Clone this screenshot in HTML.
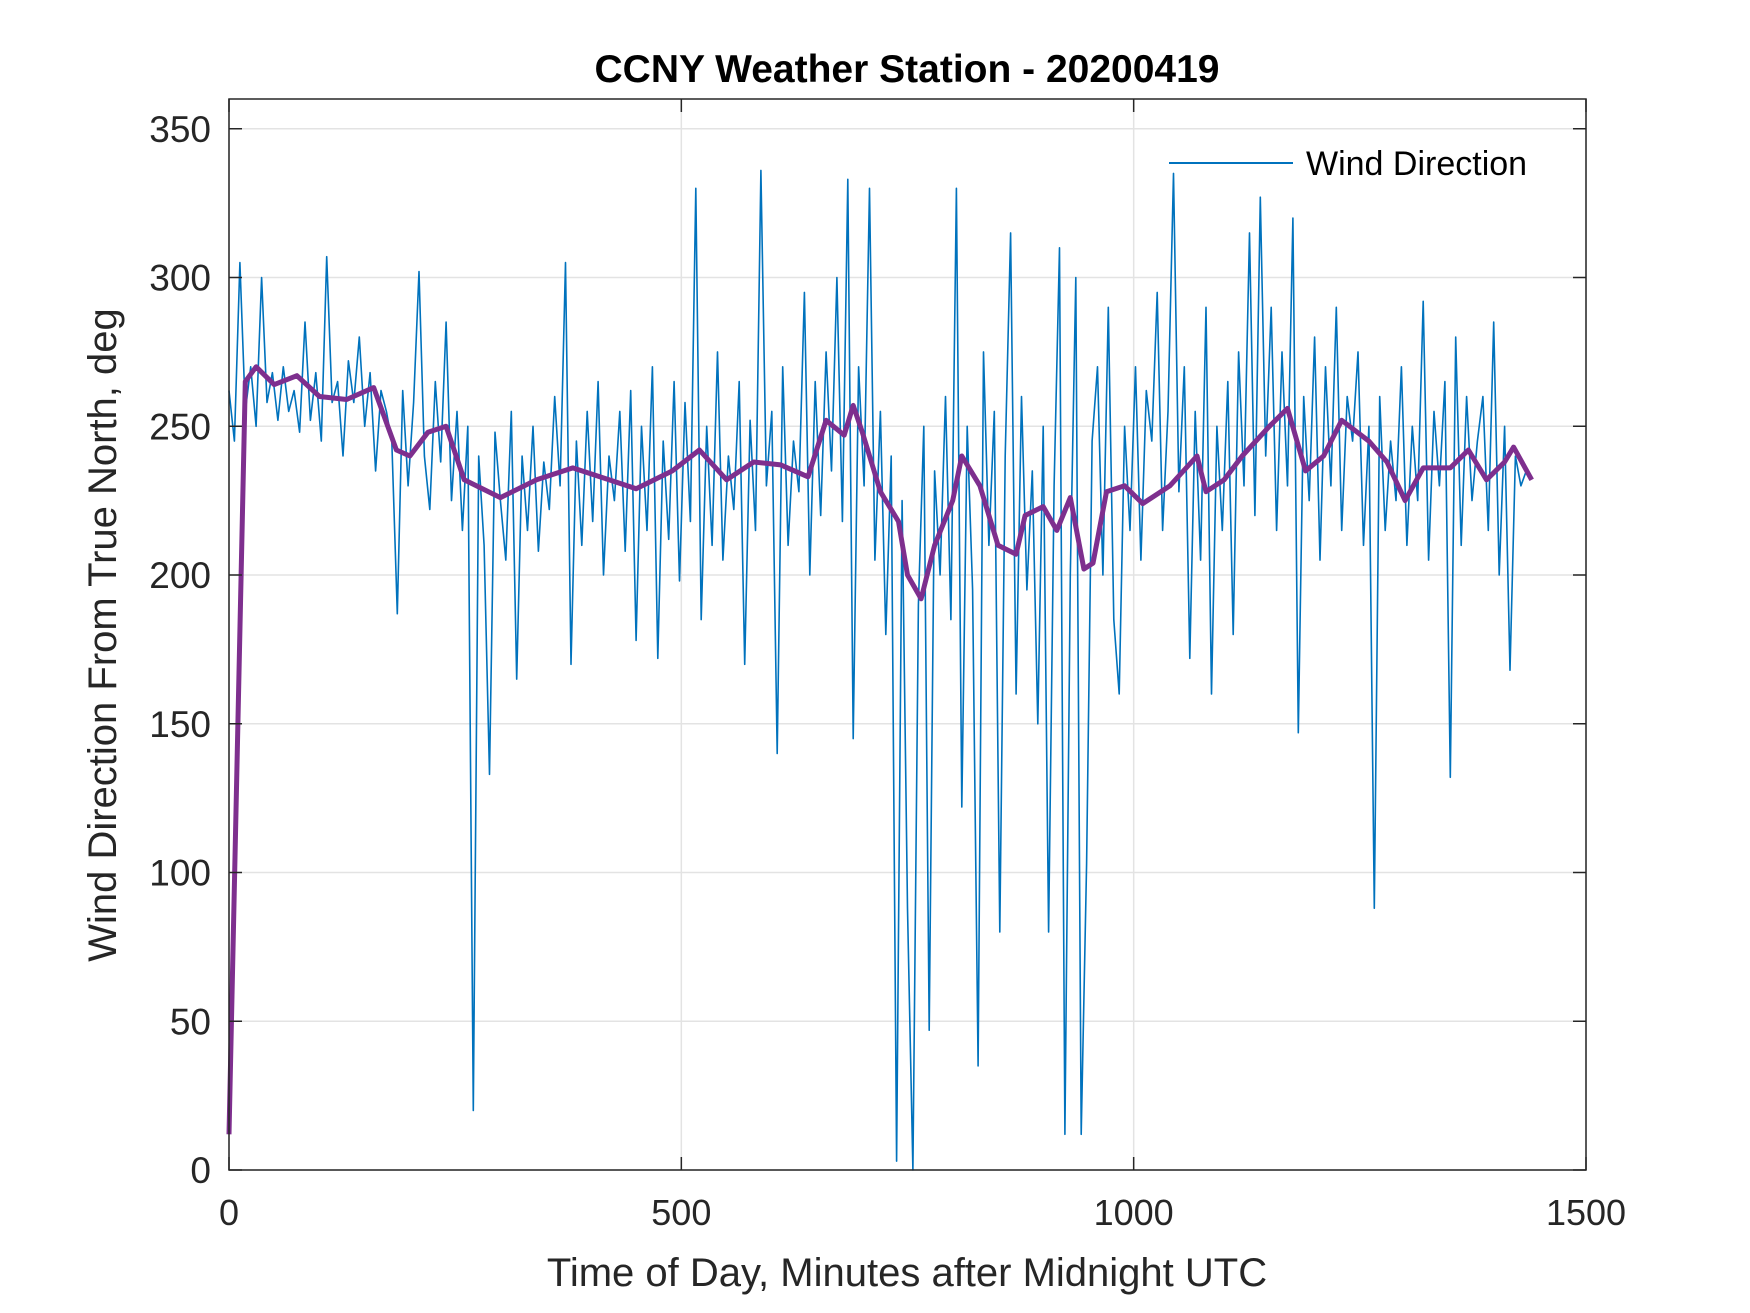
<!DOCTYPE html>
<html><head><meta charset="utf-8"><style>
body{margin:0;background:#fff}
svg{display:block;font-family:"Liberation Sans",Arial,sans-serif}
</style></head><body>
<svg id="chart" width="1750" height="1313" viewBox="0 0 1750 1313">
<rect width="1750" height="1313" fill="#fff"/>
<g id="grid"></g>
<g id="series"></g>
<rect x="229" y="99" width="1357" height="1071" fill="none" stroke="#262626" stroke-width="1.5"/>
<g id="ticks"></g>
<text x="907" y="82" text-anchor="middle" font-size="39" font-weight="bold" fill="#000">CCNY Weather Station - 20200419</text>
<text x="907" y="1286" text-anchor="middle" font-size="40" fill="#262626">Time of Day, Minutes after Midnight UTC</text>
<text transform="translate(116,635) rotate(-90)" text-anchor="middle" font-size="40" fill="#262626">Wind Direction From True North, deg</text>
<g>
<line x1="1169" y1="163" x2="1293" y2="163" stroke="#0072BD" stroke-width="2"/>
<text x="1306" y="175" font-size="34" fill="#000">Wind Direction</text>
</g>
</svg>
<script>
const windStep = 6;
const windValues = [
262,245,305,255,270,250,300,258,268,252,
270,255,262,248,285,252,268,245,307,258,
265,240,272,258,280,250,268,235,262,255,
245,187,262,230,258,302,240,222,265,238,
285,225,255,215,250,20,240,210,133,248,
225,205,255,165,240,215,250,208,238,222,
260,230,305,170,245,210,255,218,265,200,
240,225,255,208,262,178,250,215,270,172,
245,212,265,198,258,218,330,185,250,210,
275,205,240,222,265,170,252,215,336,230,
255,140,270,210,245,228,295,200,265,220,
275,235,300,218,333,145,270,230,330,205,
255,180,240,3,225,88,0,190,250,47,
235,200,260,185,330,122,250,195,35,275,
210,255,80,240,315,160,260,195,235,150,
250,80,230,310,12,200,300,12,103,245,
270,200,290,185,160,250,215,270,205,262,
245,295,215,255,335,228,270,172,255,205,
290,160,250,215,265,180,275,230,315,220,
327,240,290,215,275,230,320,147,260,225,
280,205,270,230,290,215,260,245,275,210,
250,88,260,215,245,225,270,210,250,225,
292,205,255,230,265,132,280,210,260,225,
245,260,215,285,200,250,168,240,230,235];
const avgMinutes = [0,18,30,50,75,100,130,160,185,200,220,240,260,300,340,380,420,450,490,520,550,580,610,640,660,680,690,700,720,740,750,765,780,800,810,830,850,870,880,900,915,930,945,955,970,990,1010,1040,1070,1080,1100,1120,1150,1170,1190,1210,1230,1260,1280,1300,1320,1350,1370,1390,1410,1420,1440];
const avgValues = [12,265,270,264,267,260,259,263,242,240,248,250,232,226,232,236,232,229,235,242,232,238,237,233,252,247,257,248,228,218,200,192,210,225,240,230,210,207,220,223,215,226,202,204,228,230,224,230,240,228,232,240,250,256,235,240,252,245,238,225,236,236,242,232,238,243,232];
const xTicks = [0,500,1000,1500];
const yTicks = [0,50,100,150,200,250,300,350];

const L=229,R=1586,T=99,B=1170;
const xs = v => L + v/1500*(R-L);
const ys = v => B - v/360*(B-T);
const NS="http://www.w3.org/2000/svg";
function mk(tag,attrs,parent){const e=document.createElementNS(NS,tag);for(const k in attrs)e.setAttribute(k,attrs[k]);parent.appendChild(e);return e;}
const grid=document.getElementById('grid'),ticks=document.getElementById('ticks'),series=document.getElementById('series');
xTicks.forEach(t=>{
  const g=mk('line',{x1:xs(t),x2:xs(t),y1:T,y2:B,stroke:'#e3e3e3','stroke-width':1.5},grid);
  
  
  const a=mk('line',{x1:xs(t),x2:xs(t),y1:B,y2:B-13,stroke:'#262626','stroke-width':1.5},ticks);
  
  
  const b=mk('line',{x1:xs(t),x2:xs(t),y1:T,y2:T+13,stroke:'#262626','stroke-width':1.5},ticks);
  
  
  const l=mk('text',{x:xs(t),y:1225,'text-anchor':'middle','font-size':36,fill:'#262626'},ticks);
  l.textContent=t;
  
  
});
yTicks.forEach(t=>{
  const g=mk('line',{x1:L,x2:R,y1:ys(t),y2:ys(t),stroke:'#e3e3e3','stroke-width':1.5},grid);
  
  
  const a=mk('line',{x1:L,x2:L+13,y1:ys(t),y2:ys(t),stroke:'#262626','stroke-width':1.5},ticks);
  
  
  const b=mk('line',{x1:R,x2:R-13,y1:ys(t),y2:ys(t),stroke:'#262626','stroke-width':1.5},ticks);
  
  
  const l=mk('text',{x:211,y:ys(t)+13,'text-anchor':'end','font-size':37,fill:'#262626'},ticks);
  l.textContent=t;
  
  
});
const wp=windValues.map((v,i)=>xs(i*windStep).toFixed(1)+','+ys(v).toFixed(1)).join(' ');
const w=mk('polyline',{points:wp,fill:'none',stroke:'#0072BD','stroke-width':1.6,'stroke-linejoin':'round'},series);


const ap=avgValues.map((v,i)=>xs(avgMinutes[i]).toFixed(1)+','+ys(v).toFixed(1)).join(' ');
const a=mk('polyline',{points:ap,fill:'none',stroke:'#7E2F8E','stroke-width':5,'stroke-linejoin':'round'},series);


</script>
</body></html>
